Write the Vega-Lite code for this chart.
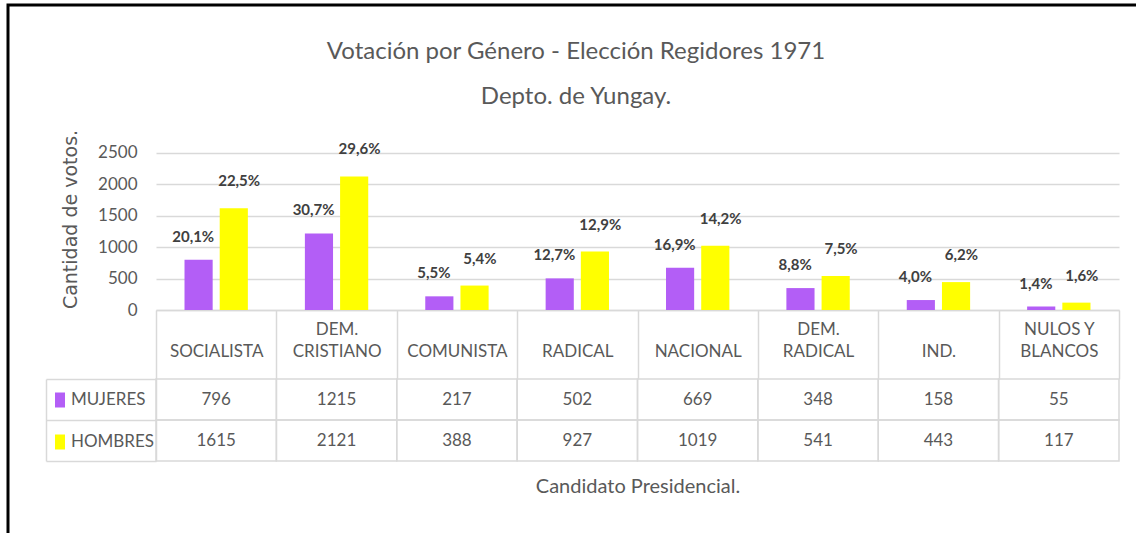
{
  "$schema": "https://vega.github.io/schema/vega-lite/v6.json",
  "width": 1128,
  "height": 528,
  "autosize": {"type": "none"},
  "padding": {"left": 8, "top": 5, "right": 0, "bottom": 0},
  "background": "white",
  "config": {"view": {"stroke": null}, "font": "Lato"},
  "title": {
    "text": "Votación por Género - Elección Regidores 1971",
    "subtitle": "Depto. de Yungay.",
    "anchor": "middle",
    "frame": "group",
    "offset": -105,
    "dx": 4,
    "font": "Lato",
    "fontSize": 24,
    "fontWeight": "normal",
    "color": "#595959",
    "subtitleFont": "Lato",
    "subtitleFontSize": 24,
    "subtitleColor": "#595959",
    "subtitlePadding": 21
  },
  "data": {
    "values": [
      {"party": "SOCIALISTA", "gender": "MUJERES", "votes": 796, "pct": "20,1%"},
      {"party": "SOCIALISTA", "gender": "HOMBRES", "votes": 1615, "pct": "22,5%"},
      {"party": "DEM. CRISTIANO", "gender": "MUJERES", "votes": 1215, "pct": "30,7%"},
      {"party": "DEM. CRISTIANO", "gender": "HOMBRES", "votes": 2121, "pct": "29,6%"},
      {"party": "COMUNISTA", "gender": "MUJERES", "votes": 217, "pct": "5,5%"},
      {"party": "COMUNISTA", "gender": "HOMBRES", "votes": 388, "pct": "5,4%"},
      {"party": "RADICAL", "gender": "MUJERES", "votes": 502, "pct": "12,7%"},
      {"party": "RADICAL", "gender": "HOMBRES", "votes": 927, "pct": "12,9%"},
      {"party": "NACIONAL", "gender": "MUJERES", "votes": 669, "pct": "16,9%"},
      {"party": "NACIONAL", "gender": "HOMBRES", "votes": 1019, "pct": "14,2%"},
      {"party": "DEM. RADICAL", "gender": "MUJERES", "votes": 348, "pct": "8,8%"},
      {"party": "DEM. RADICAL", "gender": "HOMBRES", "votes": 541, "pct": "7,5%"},
      {"party": "IND.", "gender": "MUJERES", "votes": 158, "pct": "4,0%"},
      {"party": "IND.", "gender": "HOMBRES", "votes": 443, "pct": "6,2%"},
      {"party": "NULOS Y BLANCOS", "gender": "MUJERES", "votes": 55, "pct": "1,4%"},
      {"party": "NULOS Y BLANCOS", "gender": "HOMBRES", "votes": 117, "pct": "1,6%"}
    ]
  },
  "layer": [
    {
      "data": {"values": [{"f": 0}]},
      "mark": {"type": "rect", "fill": "transparent", "stroke": "#000000", "strokeWidth": 3},
      "encoding": {
        "x": {"datum": 0, "type": "quantitative", "scale": {"domain": [0, 1], "range": [0, 1128], "nice": false, "zero": false}, "axis": null},
        "x2": {"datum": 2},
        "y": {"datum": 0, "type": "quantitative", "scale": {"domain": [0, 1], "range": [0, 528], "nice": false, "zero": false}, "axis": null},
        "y2": {"datum": 2}
      }
    },
    {
      "mark": {"type": "bar"},
      "encoding": {
        "x": {
          "field": "party", "type": "nominal",
          "scale": {"domain": ["SOCIALISTA", "DEM. CRISTIANO", "COMUNISTA", "RADICAL", "NACIONAL", "DEM. RADICAL", "IND.", "NULOS Y BLANCOS"], "range": [148, 1111], "paddingInner": 0, "paddingOuter": 0},
          "axis": {
            "orient": "bottom", "offset": -223, "title": null,
            "domain": true, "domainColor": "#D9D9D9", "domainWidth": 1.5,
            "ticks": true, "tickBand": "extent", "tickSize": 69, "tickColor": "#D9D9D9", "tickWidth": 1.5,
            "labelPadding": -50,
            "labelBaseline": "middle", "labelAlign": "center", "labelAngle": 0,
            "labelFont": "Lato", "labelFontSize": 17, "labelColor": "#595959", "labelLineHeight": 22,
            "labelOverlap": false, "labelBound": false, "labelFlush": false,
            "labelExpr": "datum.value == 'NULOS Y BLANCOS' ? ['NULOS Y', 'BLANCOS'] : (datum.value == 'DEM. CRISTIANO' ? ['DEM.', 'CRISTIANO'] : (datum.value == 'DEM. RADICAL' ? ['DEM.', 'RADICAL'] : ['\u00a0', datum.label]))"
          }
        },
        "xOffset": {"field": "gender", "type": "nominal", "scale": {"domain": ["MUJERES", "HOMBRES"], "paddingInner": 0.2, "paddingOuter": 0.81}},
        "y": {
          "field": "votes", "type": "quantitative",
          "scale": {"domain": [0, 2500], "range": [305, 147.5], "nice": false},
          "axis": {
            "orient": "left", "offset": -148, "values": [0, 500, 1000, 1500, 2000, 2500],
            "labelExpr": "'' + datum.value",
            "grid": true, "gridColor": "#D9D9D9", "gridWidth": 1.5,
            "domain": false, "ticks": false, "tickSize": 0, "labelPadding": 19,
            "labelFont": "Lato", "labelFontSize": 17, "labelColor": "#595959",
            "title": "Cantidad de votos.", "titleFont": "DejaVu Sans", "titleFontSize": 19,
            "titleFontWeight": "normal", "titleColor": "#595959",
            "titleX": -86, "titleY": 214, "titleAngle": -90, "titleAlign": "center", "titleBaseline": "middle"
          }
        },
        "color": {
          "field": "gender", "type": "nominal",
          "scale": {"domain": ["MUJERES", "HOMBRES"], "range": ["#B35EF6", "#FFFF00"]},
          "legend": {
            "orient": "none", "legendX": 43.5, "legendY": 386.5, "direction": "vertical", "title": null,
            "symbolType": "M-0.67,-1H0.67V1H-0.67Z", "symbolSize": 225, "symbolStrokeWidth": 0,
            "labelFontSize": 17, "labelColor": "#595959", "labelFont": "Lato",
            "labelOffset": 2.5, "rowPadding": 24, "padding": 0
          }
        }
      }
    },
    {
      "transform": [{"filter": "datum.gender == 'MUJERES'"}],
      "mark": {"type": "text", "font": "Lato", "fontWeight": "bold", "fontSize": 15, "color": "#404040", "baseline": "middle", "dy": -23},
      "encoding": {
        "x": {"field": "party", "type": "nominal", "scale": {"domain": ["SOCIALISTA", "DEM. CRISTIANO", "COMUNISTA", "RADICAL", "NACIONAL", "DEM. RADICAL", "IND.", "NULOS Y BLANCOS"], "range": [148, 1111], "paddingInner": 0, "paddingOuter": 0}, "axis": null},
        "xOffset": {"field": "gender", "type": "nominal", "scale": {"domain": ["MUJERES", "HOMBRES"], "paddingInner": 0.2, "paddingOuter": 0.81}},
        "y": {"field": "votes", "type": "quantitative", "scale": {"domain": [0, 2500], "range": [305, 147.5], "nice": false}, "axis": null},
        "text": {"field": "pct", "type": "nominal"}
      }
    },
    {
      "transform": [{"filter": "datum.gender == 'HOMBRES'"}],
      "mark": {"type": "text", "font": "Lato", "fontWeight": "bold", "fontSize": 15, "color": "#404040", "baseline": "middle", "dy": -27},
      "encoding": {
        "x": {"field": "party", "type": "nominal", "scale": {"domain": ["SOCIALISTA", "DEM. CRISTIANO", "COMUNISTA", "RADICAL", "NACIONAL", "DEM. RADICAL", "IND.", "NULOS Y BLANCOS"], "range": [148, 1111], "paddingInner": 0, "paddingOuter": 0}, "axis": null},
        "xOffset": {"field": "gender", "type": "nominal", "scale": {"domain": ["MUJERES", "HOMBRES"], "paddingInner": 0.2, "paddingOuter": 0.81}},
        "y": {"field": "votes", "type": "quantitative", "scale": {"domain": [0, 2500], "range": [305, 147.5], "nice": false}, "axis": null},
        "text": {"field": "pct", "type": "nominal"}
      }
    },
    {
      "mark": {"type": "rect", "fill": "transparent", "stroke": "#D9D9D9", "strokeWidth": 1.5},
      "encoding": {
        "x": {
          "field": "party", "type": "nominal",
          "scale": {"domain": ["SOCIALISTA", "DEM. CRISTIANO", "COMUNISTA", "RADICAL", "NACIONAL", "DEM. RADICAL", "IND.", "NULOS Y BLANCOS"], "range": [148, 1111], "paddingInner": 0, "paddingOuter": 0},
          "axis": {
            "orient": "bottom", "offset": -72, "labels": false, "ticks": false, "domain": false,
            "title": "Candidato Presidencial.", "titleFont": "Lato", "titleFontSize": 20, "titleFontWeight": "normal",
            "titleColor": "#595959", "titlePadding": 15
          }
        },
        "y": {
          "field": "gender", "type": "nominal",
          "scale": {"domain": ["MUJERES", "HOMBRES"], "range": [374, 456], "paddingInner": 0, "paddingOuter": 0},
          "axis": {
            "orient": "left", "offset": -148, "title": null, "labels": false,
            "domain": true, "domainColor": "#D9D9D9", "domainWidth": 1.5,
            "ticks": true, "tickBand": "extent", "tickSize": 110, "tickColor": "#D9D9D9", "tickWidth": 1.5
          }
        }
      }
    },
    {
      "mark": {"type": "text", "font": "Lato", "fontSize": 17, "color": "#595959", "baseline": "middle"},
      "encoding": {
        "x": {"field": "party", "type": "nominal", "scale": {"domain": ["SOCIALISTA", "DEM. CRISTIANO", "COMUNISTA", "RADICAL", "NACIONAL", "DEM. RADICAL", "IND.", "NULOS Y BLANCOS"], "range": [148, 1111], "paddingInner": 0, "paddingOuter": 0}, "axis": null},
        "y": {
          "field": "gender", "type": "nominal",
          "scale": {"domain": ["MUJERES", "HOMBRES"], "range": [374, 456], "paddingInner": 0, "paddingOuter": 0},
          "axis": {
            "orient": "left", "offset": -38, "title": null, "labels": false, "ticks": false,
            "domain": true, "domainColor": "#D9D9D9", "domainWidth": 1.5
          }
        },
        "text": {"field": "votes", "type": "quantitative", "format": "d"}
      }
    }
  ],
  "resolve": {"scale": {"x": "independent", "y": "independent", "xOffset": "independent"}}
}
